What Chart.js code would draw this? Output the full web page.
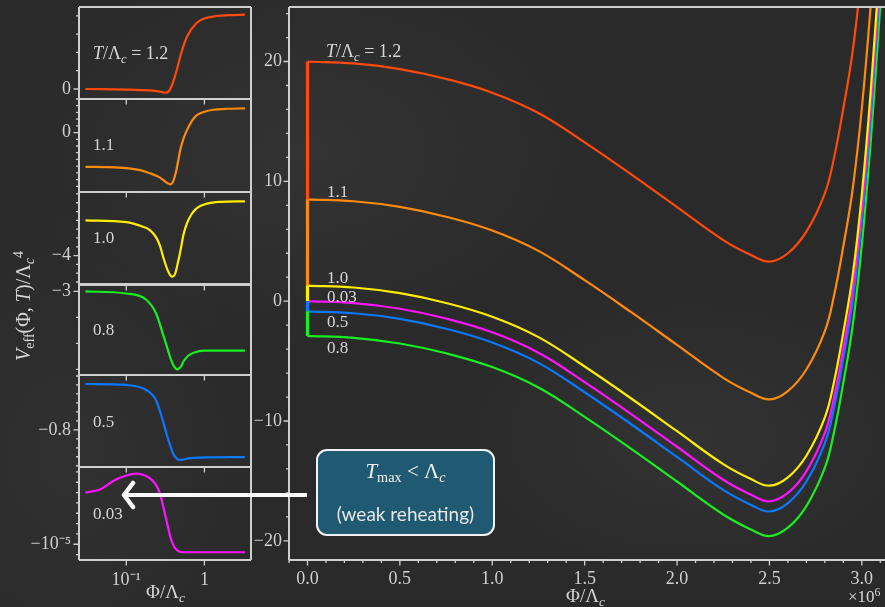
<!DOCTYPE html>
<html><head><meta charset="utf-8">
<script src="https://cdn.jsdelivr.net/npm/chart.js@4/dist/chart.umd.min.js"></script>
<style>
html,body{margin:0;padding:0;}
body{width:885px;height:607px;overflow:hidden;position:relative;background:#2a2a2a;
 background-image:radial-gradient(ellipse 300px 200px at 35% 25%,rgba(255,255,255,0.045),transparent),
 radial-gradient(ellipse 260px 160px at 78% 72%,rgba(255,255,255,0.04),transparent),
 radial-gradient(ellipse 200px 260px at 8% 75%,rgba(255,255,255,0.03),transparent);
 font-family:"Liberation Serif",serif;color:#d8d8d8;}
canvas{position:absolute;}
.t{position:absolute;white-space:nowrap;font-size:17px;line-height:1;color:#d6d6d6;font-family:"Liberation Serif",serif;}
.t sub{font-size:0.7em;vertical-align:-0.3em;line-height:0;}
.t sup{font-size:0.7em;vertical-align:0.5em;line-height:0;}
#box{position:absolute;left:316px;top:449px;width:175px;height:83px;border:2px solid #f2f2f2;border-radius:11px;background:#1f5a72;}
#box .l1{position:absolute;left:0;width:100%;top:8px;text-align:center;font-size:21px;font-family:"Liberation Serif",serif;color:#f0f0f0;}
#box .l2{position:absolute;left:0;width:100%;top:51px;text-align:center;font-size:19px;font-family:Lato,"Open Sans",sans-serif;color:#e6e6e6;}
#box sub{font-size:0.68em;vertical-align:-0.3em;line-height:0;}
#arrow{position:absolute;left:0;top:0;}
#ytitle{position:absolute;left:23px;top:306px;transform:translate(-50%,-50%) rotate(-90deg);font-size:20px;white-space:nowrap;color:#d6d6d6;}
#ytitle sub{font-size:0.7em;vertical-align:-0.3em;line-height:0;}
#ytitle sup{font-size:0.7em;vertical-align:0.5em;line-height:0;}
</style></head>
<body>
<canvas id="main" width="655" height="607" style="left:230px;top:0px"></canvas>
<canvas id="p0" width="256" height="104" style="left:0;top:3px"></canvas>
<canvas id="p1" width="256" height="105" style="left:0;top:95px"></canvas>
<canvas id="p2" width="256" height="105" style="left:0;top:188px"></canvas>
<canvas id="p3" width="256" height="103" style="left:0;top:280px"></canvas>
<canvas id="p4" width="256" height="104" style="left:0;top:371px"></canvas>
<canvas id="p5" width="256" height="144" style="left:0;top:463px"></canvas>

<svg id="arrow" width="885" height="607">
 <line x1="307" y1="495" x2="126" y2="495" stroke="#fafafa" stroke-width="4"/>
 <polyline points="133,483 124,495 133,507" fill="none" stroke="#fafafa" stroke-width="4.5" stroke-linecap="round" stroke-linejoin="round"/>
</svg>

<div class="t" style="left:326px;top:42px;font-size:18px"><i>T</i>/Λ<sub><i>c</i></sub> = 1.2</div>
<div class="t" style="left:327px;top:183px">1.1</div>
<div class="t" style="left:327px;top:269px">1.0</div>
<div class="t" style="left:327px;top:288px">0.03</div>
<div class="t" style="left:327px;top:313px">0.5</div>
<div class="t" style="left:327px;top:339px">0.8</div>

<div class="t" style="left:93px;top:44px;font-size:18px"><i>T</i>/Λ<sub><i>c</i></sub> = 1.2</div>
<div class="t" style="left:93px;top:136px">1.1</div>
<div class="t" style="left:93px;top:229px">1.0</div>
<div class="t" style="left:93px;top:321px">0.8</div>
<div class="t" style="left:93px;top:413px">0.5</div>
<div class="t" style="left:93px;top:505px">0.03</div>

<div class="t" style="left:566px;top:586px;font-size:19px">Φ/Λ<sub><i>c</i></sub></div>
<div class="t" style="left:146px;top:582px;font-size:19px">Φ/Λ<sub><i>c</i></sub></div>
<div class="t" style="left:848px;top:588px;font-size:17px">×10<sup>6</sup></div>
<div id="ytitle"><i>V</i><sub>eff</sub>(Φ, <i>T</i>)/Λ<sub><i>c</i></sub><sup>4</sup></div>

<div id="box"><div class="l1"><i>T</i><sub>max</sub> &lt; Λ<sub><i>c</i></sub></div><div class="l2">(weak reheating)</div></div>

<script>
// ---------------- DATA ----------------
const phiMain = [0, 0.25, 0.5, 0.75, 1.0, 1.25, 1.5, 1.75, 2.0, 2.25, 2.4, 2.5, 2.6, 2.7, 2.8, 2.85, 2.9, 2.95, 3.0, 3.05, 3.1];
const V_T12  = [20, 19.84, 19.37, 18.55, 17.4, 15.7, 13.25, 10.6, 7.85, 5.1, 3.85, 3.3, 4.0, 5.8, 9.0, 12.0, 16.1, 20.8, 27.6, 36.6, 47.6];
const V_T11  = [8.5, 8.34, 7.87, 7.05, 5.9, 4.2, 1.75, -0.9, -3.65, -6.4, -7.65, -8.2, -7.5, -5.7, -2.5, 0.5, 4.6, 9.3, 16.1, 25.1, 36.1];
const V_T10  = [1.3, 1.14, 0.67, -0.15, -1.3, -3.0, -5.45, -8.1, -10.85, -13.6, -14.85, -15.4, -14.7, -12.9, -9.7, -6.7, -2.6, 2.1, 8.9, 17.9, 28.9];
const V_T003 = [0, -0.16, -0.63, -1.45, -2.6, -4.3, -6.75, -9.4, -12.15, -14.9, -16.15, -16.7, -16.0, -14.2, -11.0, -8.0, -3.9, 0.8, 7.6, 16.6, 27.6];
const V_T05  = [-0.85, -1.01, -1.48, -2.3, -3.45, -5.15, -7.6, -10.25, -13.0, -15.75, -17.0, -17.55, -16.85, -15.05, -11.85, -8.85, -4.75, -0.05, 6.75, 15.75, 26.75];
const V_T08  = [-2.9, -3.06, -3.53, -4.35, -5.5, -7.2, -9.65, -12.3, -15.05, -17.8, -19.05, -19.6, -18.9, -17.1, -13.9, -10.9, -6.8, -2.1, 4.7, 13.7, 24.7];
// V(0) reached along the thermal history (1.2 -> 1.1 -> 1.0 -> 0.03/0.5 -> 0.8)
const jumpLevels = [20, 8.5, 1.3, 0, -0.85, -2.9];
const xTicksMain = [0, 0.5, 1.0, 1.5, 2.0, 2.5, 3.0];
const yTicksMain = [-20, -10, 0, 10, 20];

// zoomed panels (log Φ/Λc)
const m12x  = [0.03, 0.1, 0.2, 0.27, 0.32, 0.35, 0.38, 0.41, 0.45, 0.5, 0.6, 0.8, 1.0, 1.4, 2.2, 3.3];
const m12y  = [0, -0.03, -0.08, -0.14, -0.2, -0.12, 0.15, 0.55, 1.15, 1.9, 2.87, 3.62, 3.85, 3.98, 4.04, 4.06];
const m11x  = [0.03, 0.06, 0.1, 0.15, 0.2, 0.26, 0.3, 0.34, 0.37, 0.4, 0.43, 0.46, 0.49, 0.54, 0.6, 0.7, 0.8, 1.0, 1.3, 2.0, 3.3];
const m11y  = [-5.1, -5.15, -5.3, -5.6, -6.05, -6.6, -7.1, -7.55, -7.7, -7.2, -6.0, -4.3, -2.6, -0.9, 0.4, 1.8, 2.6, 3.1, 3.4, 3.55, 3.6];
const m10x  = [0.03, 0.1, 0.16, 0.2, 0.24, 0.27, 0.3, 0.34, 0.37, 0.39, 0.42, 0.45, 0.5, 0.54, 0.6, 0.69, 0.8, 1.08, 1.6, 3.3];
const m10y  = [0, -0.2, -0.7, -1.1, -1.9, -2.9, -4.3, -5.7, -6.3, -6.4, -6.1, -5.1, -3.2, -1.6, -0.3, 0.75, 1.4, 1.9, 2.1, 2.16];
const m08x  = [0.03, 0.1, 0.18, 0.24, 0.3, 0.34, 0.37, 0.41, 0.45, 0.5, 0.54, 0.62, 0.73, 1.0, 3.3];
const m08y  = [-3.0, -3.04, -3.16, -3.42, -3.86, -4.12, -4.3, -4.45, -4.5, -4.45, -4.35, -4.24, -4.18, -4.14, -4.14];
const m05x  = [0.03, 0.1, 0.18, 0.24, 0.275, 0.31, 0.335, 0.37, 0.405, 0.45, 0.49, 0.66, 3.3];
const m05y  = [-0.7489, -0.75, -0.7556, -0.7667, -0.7815, -0.797, -0.8074, -0.819, -0.8278, -0.8325, -0.8335, -0.8315, -0.8304];
const m003x = [0.03, 0.047, 0.069, 0.1, 0.132, 0.16, 0.185, 0.21, 0.236, 0.27, 0.3, 0.34, 0.37, 0.41, 0.45, 0.5, 0.6, 3.3];
const m003y = [0, 0.065, 0.23, 0.33, 0.365, 0.35, 0.31, 0.25, 0.17, -0.02, -0.3, -0.65, -0.88, -1.05, -1.12, -1.15, -1.155, -1.155];
const panelMajor = [0, 0, -4, -3, -0.8, -1];
const panelMajorLabel = ['0', '0', '−4', '−3', '−0.8', '−10⁻⁵'];
const panelTickStep = [1, 1, 1, 0.5, 0.01, 0.2];
const miniXTicks = [0.1, 1];

// ---------------- STYLE / RENDER ----------------
const C = {r:'#ff4a0a', o:'#ff8a0c', y:'#ffee00', m:'#ff14ff', b:'#0a78ff', g:'#18ee20'};
const AX = '#cfcfcf';
const zip = (xs, ys) => xs.map((x, i) => ({x, y: ys[i]}));
const fmtMinus = v => String(v).replace('-', '−');

const frameTicks = {
  id: 'frameTicks',
  afterDraw(chart, args, o) {
    const {ctx, chartArea: a, scales} = chart;
    ctx.save();
    ctx.strokeStyle = AX; ctx.lineWidth = o.frameWidth || 2;
    ctx.beginPath();
    ctx.moveTo(a.left, a.bottom); ctx.lineTo(a.left, a.top);
    ctx.moveTo(a.left, a.top); ctx.lineTo(a.right + (o.noRight ? 10 : 0), a.top);
    if (!o.noRight) { ctx.moveTo(a.right, a.top); ctx.lineTo(a.right, a.bottom); }
    ctx.moveTo(a.left, a.bottom); ctx.lineTo(a.right + (o.noRight ? 10 : 0), a.bottom);
    ctx.stroke();
    ctx.lineWidth = 1.3;
    ctx.beginPath();
    const ys = scales.y, xs = scales.x;
    const yt = (list, len) => (list || []).forEach(v => {
      const p = ys.getPixelForValue(v);
      if (p < a.top - 0.5 || p > a.bottom + 0.5) return;
      ctx.moveTo(a.left - len, p); ctx.lineTo(a.left, p);
    });
    const xt = (list, len) => (list || []).forEach(v => {
      const p = xs.getPixelForValue(v);
      if (p < a.left - 0.5 || p > a.right + 0.5) return;
      ctx.moveTo(p, a.bottom); ctx.lineTo(p, a.bottom + len);
    });
    yt(o.yMinor, 3); yt(o.yMajor, 5.5); xt(o.xMinor, 3); xt(o.xMajor, 5.5);
    ctx.stroke();
    ctx.restore();
  }
};

const tickFont = {family: 'Liberation Serif', size: 18};
const fixY = w => s => { s.width = w; s.paddingTop = 0; s.paddingBottom = 0; };
const fixX = h => s => { s.height = h; s.paddingLeft = 0; s.paddingRight = 0; };

// main chart
const series = [
  {d: V_T12, c: C.r}, {d: V_T11, c: C.o}, {d: V_T10, c: C.y},
  {d: V_T003, c: C.m}, {d: V_T05, c: C.b}, {d: V_T08, c: C.g}
];
const jumpColors = [C.r, C.o, C.y, C.b, C.g];
const mainDatasets = series.map((s, i) => ({
  data: zip(phiMain, s.d), borderColor: s.c, borderWidth: 2.2, pointRadius: 0,
  fill: false, tension: 0.4, order: 10 + i
}));
for (let k = 0; k < jumpLevels.length - 1; k++) {
  mainDatasets.push({
    data: [{x: 0, y: jumpLevels[k]}, {x: 0, y: jumpLevels[k + 1]}],
    borderColor: jumpColors[k], borderWidth: 3.2, pointRadius: 0, order: 5 - k
  });
}
const yMinorMain = []; for (let v = -20; v <= 24; v += 2) yMinorMain.push(v);
const xMinorMain = []; for (let v = -1; v <= 31; v++) xMinorMain.push(v / 10);

new Chart(document.getElementById('main'), {
  type: 'line',
  data: {datasets: mainDatasets},
  options: {
    responsive: false, animation: false, events: [],
    layout: {padding: {top: 7, right: 1, left: 0, bottom: 0}},
    plugins: {legend: {display: false}, tooltip: {enabled: false},
      frameTicks: {yMajor: yTicksMain, yMinor: yMinorMain, xMajor: xTicksMain, xMinor: xMinorMain, noRight: true}},
    scales: {
      x: {type: 'linear', min: -0.1, max: 3.12,
        grid: {display: false, drawTicks: false}, border: {display: false},
        afterBuildTicks: s => { s.ticks = xTicksMain.map(v => ({value: v})); },
        afterFit: fixX(47),
        ticks: {color: '#d0d0d0', font: tickFont, padding: 8, maxRotation: 0, autoSkip: false,
          callback: v => Number(v).toFixed(1)}},
      y: {type: 'linear', min: -21.6, max: 24.55,
        grid: {display: false, drawTicks: false}, border: {display: false},
        afterBuildTicks: s => { s.ticks = yTicksMain.map(v => ({value: v})); },
        afterFit: fixY(59),
        ticks: {color: '#d0d0d0', font: tickFont, padding: 7, autoSkip: false,
          callback: v => fmtMinus(v)}}
    }
  },
  plugins: [frameTicks]
});

// mini panels
const panels = [
  {x: m12x, y: m12y, c: C.r, min: -0.546, max: 4.48},
  {x: m11x, y: m11y, c: C.o, min: -8.85, max: 5.0},
  {x: m10x, y: m10y, c: C.y, min: -7.34, max: 3.22},
  {x: m08x, y: m08y, c: C.g, min: -4.61, max: -2.857},
  {x: m05x, y: m05y, c: C.b, min: -0.8414, max: -0.7389},
  {x: m003x, y: m003y, c: C.m, min: -1.305, max: 0.495}
];
panels.forEach((p, i) => {
  const last = i === panels.length - 1;
  const step = panelTickStep[i];
  const minor = [];
  for (let k = Math.ceil(p.min / step - 1e-6); k * step <= p.max + 1e-9; k++) minor.push(+(k * step).toFixed(6));
  new Chart(document.getElementById('p' + i), {
    type: 'line',
    data: {datasets: [{data: zip(p.x, p.y), borderColor: p.c, borderWidth: 2.2, pointRadius: 0,
      cubicInterpolationMode: 'monotone'}]},
    options: {
      responsive: false, animation: false, events: [],
      layout: {padding: {top: 4, right: 5, left: 0, bottom: last ? 0 : 8}},
      plugins: {legend: {display: false}, tooltip: {enabled: false},
        frameTicks: {yMajor: [panelMajor[i]], yMinor: minor, xMajor: miniXTicks}},
      scales: {
        x: {type: 'logarithmic', min: 0.0248, max: 3.95, display: last,
          grid: {display: false, drawTicks: false}, border: {display: false},
          afterBuildTicks: s => { s.ticks = miniXTicks.map(v => ({value: v})); },
          afterFit: fixX(last ? 47 : 0),
          ticks: {color: '#d0d0d0', font: tickFont, padding: 9, maxRotation: 0, autoSkip: false,
            callback: v => (v === 0.1 ? '10⁻¹' : '1')}},
        y: {type: 'linear', min: p.min, max: p.max,
          grid: {display: false, drawTicks: false}, border: {display: false},
          afterBuildTicks: s => { s.ticks = [{value: panelMajor[i]}]; },
          afterFit: fixY(79),
          ticks: {color: '#d0d0d0', font: tickFont, padding: 8, autoSkip: false,
            callback: () => panelMajorLabel[i]}}
      }
    },
    plugins: [frameTicks]
  });
});
</script>
</body></html>
